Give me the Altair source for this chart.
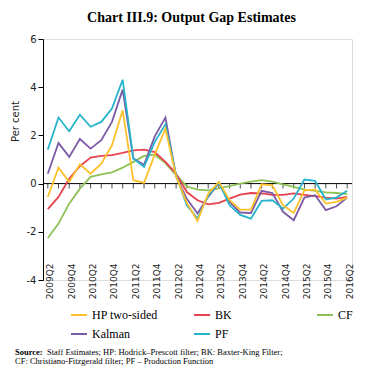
import altair as alt
import pandas as pd

quarters = ["2009Q2", "2009Q3", "2009Q4", "2010Q1", "2010Q2", "2010Q3", "2010Q4",
            "2011Q1", "2011Q2", "2011Q3", "2011Q4", "2012Q1", "2012Q2", "2012Q3",
            "2012Q4", "2013Q1", "2013Q2", "2013Q3", "2013Q4", "2014Q1", "2014Q2",
            "2014Q3", "2014Q4", "2015Q1", "2015Q2", "2015Q3", "2015Q4", "2016Q1",
            "2016Q2"]
label_quarters = quarters[::2]

hp = [-0.55, 0.66, 0.07, 0.80, 0.41, 0.83, 1.59, 3.04, 0.14, 0.03, 1.20, 2.28, 0.30,
      -0.80, -1.55, -0.42, 0.07, -0.69, -1.08, -1.08, -0.03, -0.07, -0.90, -1.22,
      -0.28, -0.25, -0.83, -0.76, -0.58]
bk = [-1.06, -0.55, 0.20, 0.72, 1.08, 1.15, 1.18, 1.27, 1.38, 1.41, 1.31, 0.90, 0.41,
      -0.35, -0.69, -0.86, -0.80, -0.62, -0.46, -0.39, -0.41, -0.47, -0.47, -0.41,
      -0.47, -0.52, -0.58, -0.62, -0.55]
cf = [-2.26, -1.66, -0.83, -0.21, 0.28, 0.38, 0.47, 0.66, 0.90, 1.15, 1.20, 0.85, 0.35,
      -0.12, -0.25, -0.28, -0.20, -0.10, 0.00, 0.08, 0.14, 0.08, -0.03, -0.14,
      -0.25, -0.30, -0.36, -0.39, -0.44]
kalman = [0.41, 1.69, 1.11, 1.85, 1.45, 1.80, 2.56, 3.90, 1.04, 0.78, 1.96, 2.74, 0.30,
          -0.63, -1.24, -0.55, 0.03, -0.76, -1.20, -1.22, -0.30, -0.39, -1.17, -1.52,
          -0.58, -0.48, -1.10, -0.94, -0.58]
pf = [1.41, 2.74, 2.17, 2.86, 2.36, 2.56, 3.11, 4.31, 1.04, 0.70, 1.73, 2.46, 0.35,
      -0.90, -1.45, -0.50, 0.05, -0.90, -1.30, -1.45, -0.72, -0.69, -1.04, -0.62,
      0.17, 0.11, -0.66, -0.58, -0.30]

series_names = ["HP two-sided", "BK", "CF", "Kalman", "PF"]
series_colors = ["#FDC12C", "#E5434D", "#8DC156", "#7B5AA6", "#27B4CA"]
draw_order = [("CF", cf), ("BK", bk), ("Kalman", kalman), ("PF", pf), ("HP two-sided", hp)]

rows = []
for name, vals in draw_order:
    for q, v in zip(quarters, vals):
        rows.append({"quarter": q, "series": name, "value": v})
df = pd.DataFrame(rows)

title_text = "Chart III.9: Output Gap Estimates"
source_bold = "Source:"
source_line1 = "Staff Estimates; HP: Hodrick\u2013Prescott filter; BK: Baxter-King Filter;"
source_line2 = "CF: Christiano-Fitzgerald filter; PF \u2013 Production Function"

x_enc = alt.X(
    "quarter:O", sort=quarters,
    scale=alt.Scale(type="point", padding=0.45),
    axis=alt.Axis(values=label_quarters, labelAngle=-90, domain=False, ticks=False,
                  title=None, offset=-20, labelPadding=3, labelFont="DejaVu Sans",
                  labelFontSize=9, labelColor="#222222", labelOffset=2),
)
y_enc = alt.Y(
    "value:Q",
    scale=alt.Scale(domain=[-4, 6], nice=False, zero=False),
    axis=alt.Axis(values=[-4, -2, 0, 2, 4, 6], title="Per cent", grid=False,
                  labelExpr="'' + datum.value", labelFont="DejaVu Sans",
                  labelFontSize=10, labelColor="#222222", tickSize=5, labelPadding=2,
                  domainColor="black", tickColor="black",
                  titleFont="DejaVu Sans", titleFontSize=10, titleFontWeight="normal",
                  titleColor="#222222", titleX=-28, titleY=82, titleAngle=270,
                  titleAlign="center", titleBaseline="middle"),
)

base = alt.Chart(df).encode(x=x_enc)

lines = base.mark_line(strokeWidth=1.8).encode(
    y=y_enc,
    color=alt.Color(
        "series:N",
        scale=alt.Scale(domain=series_names, range=series_colors),
        legend=alt.Legend(title=None, orient="none", legendX=27, legendY=267,
                          direction="horizontal", columns=3, gridAlign="all",
                          columnPadding=32, rowPadding=4,
                          symbolType="stroke", symbolSize=256, symbolStrokeWidth=2,
                          labelFont="Liberation Serif", labelFontSize=12,
                          labelColor="black", labelOffset=4, padding=0),
    ),
)

ticks = base.transform_filter(alt.datum.series == "HP two-sided").mark_tick(
    orient="vertical", size=5, thickness=1, color="black", yOffset=2.5
).encode(y=alt.datum(0))

zero = alt.Chart(pd.DataFrame({"z": [0]})).mark_rule(color="black", strokeWidth=1).encode(
    y=alt.datum(0)
)

src_df = pd.DataFrame({"t": [0]})
src_bold = alt.Chart(src_df).mark_text(
    text=source_bold, font="Liberation Serif", fontSize=8.5, fontWeight="bold",
    align="left", baseline="middle", color="black"
).encode(x=alt.value(-28), y=alt.value(313))
src_l1 = alt.Chart(src_df).mark_text(
    text=source_line1, font="Liberation Serif", fontSize=8.5,
    align="left", baseline="middle", color="black"
).encode(x=alt.value(4), y=alt.value(313))
src_l2 = alt.Chart(src_df).mark_text(
    text=source_line2, font="Liberation Serif", fontSize=8.5,
    align="left", baseline="middle", color="black"
).encode(x=alt.value(-28), y=alt.value(322))

chart = alt.layer(zero, ticks, lines, src_bold, src_l1, src_l2).properties(
    width=309, height=241,
    padding={"left": 35, "top": 31, "right": 20, "bottom": 90},
    autosize=alt.AutoSizeParams(type="none"),
    title=alt.TitleParams(title_text, font="Liberation Serif", fontSize=14,
                          fontWeight="bold", anchor="middle", frame="group",
                          dx=-6, offset=9, color="black"),
).configure_view(stroke=None).configure(background="white")

chart.save("out.html", embed_options={"renderer": "svg", "actions": False})
